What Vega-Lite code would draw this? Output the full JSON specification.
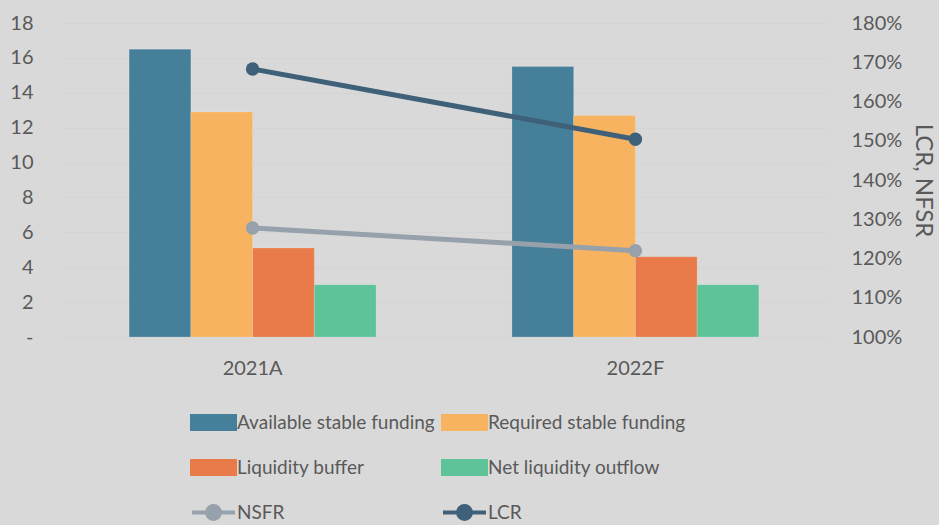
{
  "$schema": "https://vega.github.io/schema/vega-lite/v6.json",
  "width": 766,
  "height": 314,
  "autosize": {"type": "none"},
  "padding": {"left": 61, "top": 23, "right": 112, "bottom": 188},
  "background": "#d9d9d9",
  "config": {
    "view": {"stroke": null},
    "font": "Lato",
    "axis": {"labelColor": "#595959", "labelFontSize": 20, "titleColor": "#595959", "domain": false, "ticks": false},
    "legend": {"labelColor": "#595959", "labelFontSize": 19, "labelLimit": 0}
  },
  "datasets": {
    "bars": [
      {"year": "2021A", "series": "Available stable funding", "value": 16.5},
      {"year": "2021A", "series": "Required stable funding", "value": 12.9},
      {"year": "2021A", "series": "Liquidity buffer", "value": 5.1},
      {"year": "2021A", "series": "Net liquidity outflow", "value": 3.0},
      {"year": "2022F", "series": "Available stable funding", "value": 15.5},
      {"year": "2022F", "series": "Required stable funding", "value": 12.7},
      {"year": "2022F", "series": "Liquidity buffer", "value": 4.6},
      {"year": "2022F", "series": "Net liquidity outflow", "value": 3.0}
    ],
    "ratios": [
      {"year": "2021A", "series": "NSFR", "rate": 1.278},
      {"year": "2022F", "series": "NSFR", "rate": 1.22},
      {"year": "2021A", "series": "LCR", "rate": 1.683},
      {"year": "2022F", "series": "LCR", "rate": 1.504}
    ]
  },
  "encoding": {
    "x": {
      "field": "year", "type": "nominal",
      "scale": {"paddingInner": 0.355, "paddingOuter": 0.178},
      "axis": {"title": null, "labelAngle": 0, "labelPadding": 21, "grid": false}
    }
  },
  "layer": [
    {
      "data": {"name": "bars"},
      "mark": {"type": "bar", "stroke": "#ffffff", "strokeOpacity": 0.25, "strokeWidth": 0.7},
      "encoding": {
        "xOffset": {
          "field": "series", "type": "nominal",
          "sort": ["Available stable funding", "Required stable funding", "Liquidity buffer", "Net liquidity outflow"],
          "scale": {"paddingInner": 0, "paddingOuter": 0}
        },
        "y": {
          "field": "value", "type": "quantitative",
          "scale": {"domain": [0, 18], "nice": false},
          "axis": {
            "title": null, "values": [0, 2, 4, 6, 8, 10, 12, 14, 16, 18],
            "labelExpr": "datum.value == 0 ? '-\u00a0\u00a0\u00a0' : datum.label",
            "labelPadding": 28, "grid": true, "gridColor": "#d4d4d4", "gridWidth": 1
          }
        },
        "color": {
          "field": "series", "type": "nominal",
          "scale": {
            "domain": ["Available stable funding", "Required stable funding", "Liquidity buffer", "Net liquidity outflow", "NSFR", "LCR"],
            "range": ["#467f99", "#f7b35f", "#e97a4a", "#5fc39a", "#96a1ac", "#3f6079"]
          },
          "legend": {
            "title": null,
            "orient": "none",
            "direction": "horizontal",
            "legendX": 129,
            "legendY": 376,
            "columns": 2,
            "columnPadding": 0,
            "rowPadding": 7,
            "padding": 0,
            "labelOffset": 0,
            "labelLimit": 0,
            "symbolSize": 1849,
            "encode": {
              "symbols": {
                "update": {
                  "shape": {"signal": "indexof(['NSFR','LCR'], datum.value) >= 0 ? 'M-1,0H1M0.3,0A0.3,0.3 0 1,1 -0.3,0A0.3,0.3 0 1,1 0.3,0Z' : 'M-1,-0.3H1V0.3H-1Z'"},
                  "fill": {"scale": "color", "field": "value"},
                  "stroke": {"signal": "indexof(['NSFR','LCR'], datum.value) >= 0 ? scale('color', datum.value) : 'transparent'"},
                  "strokeWidth": {"value": 4},
                  "size": {"value": 1849},
                  "opacity": {"value": 1},
                  "fillOpacity": {"value": 1},
                  "strokeOpacity": {"value": 1}
                }
              }
            }
          }
        }
      }
    },
    {
      "data": {"name": "ratios"},
      "mark": {"type": "line", "strokeWidth": 5, "point": {"size": 180, "filled": true, "opacity": 1}},
      "encoding": {
        "y": {
          "field": "rate", "type": "quantitative",
          "scale": {"domain": [1.0, 1.8], "nice": false},
          "axis": {
            "orient": "right", "format": ".0%", "values": [1.0, 1.1, 1.2, 1.3, 1.4, 1.5, 1.6, 1.7, 1.8],
            "labelPadding": 24, "title": "LCR, NFSR", "titleFontSize": 24, "titleFontWeight": "normal",
            "titlePadding": 9, "grid": false
          }
        },
        "color": {
          "field": "series", "type": "nominal",
          "legend": {
            "title": null,
            "orient": "none",
            "direction": "horizontal",
            "legendX": 129,
            "legendY": 376,
            "columns": 2,
            "columnPadding": 0,
            "rowPadding": 7,
            "padding": 0,
            "labelOffset": 0,
            "labelLimit": 0,
            "symbolSize": 1849,
            "encode": {
              "symbols": {
                "update": {
                  "shape": {"signal": "indexof(['NSFR','LCR'], datum.value) >= 0 ? 'M-1,0H1M0.3,0A0.3,0.3 0 1,1 -0.3,0A0.3,0.3 0 1,1 0.3,0Z' : 'M-1,-0.3H1V0.3H-1Z'"},
                  "fill": {"scale": "color", "field": "value"},
                  "stroke": {"signal": "indexof(['NSFR','LCR'], datum.value) >= 0 ? scale('color', datum.value) : 'transparent'"},
                  "strokeWidth": {"value": 4},
                  "size": {"value": 1849},
                  "opacity": {"value": 1},
                  "fillOpacity": {"value": 1},
                  "strokeOpacity": {"value": 1}
                }
              }
            }
          }
        }
      }
    }
  ],
  "resolve": {"scale": {"y": "independent"}}
}
